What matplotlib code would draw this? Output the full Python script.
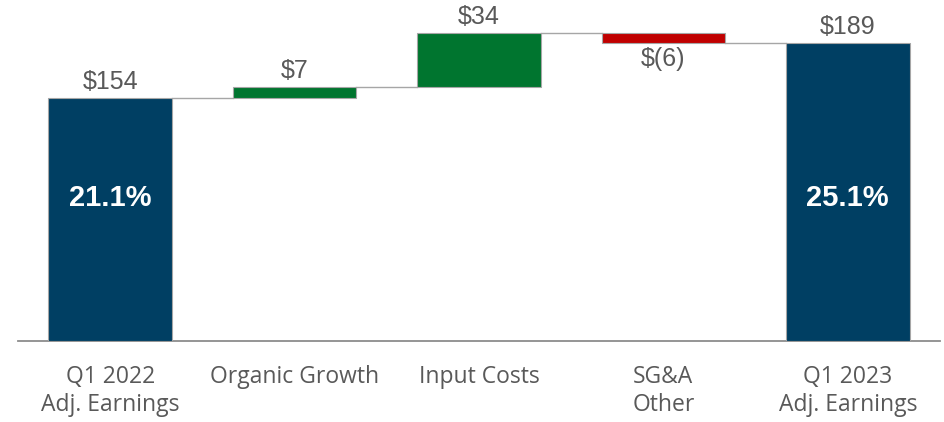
import matplotlib
matplotlib.use("Agg")
import matplotlib.pyplot as plt
import numpy as np

# earnings bridge, $ millions
categories = ["Q1 2022\nAdj. Earnings", "Organic Growth", "Input Costs",
              "SG&A\nOther", "Q1 2023\nAdj. Earnings"]
values = [154, 7, 34, -6, 189]
is_total = [True, False, False, False, True]
margins = ["21.1%", None, None, None, "25.1%"]

navy = "#003f63"
green = "#00752f"
red = "#c00000"
edge = "#a6a6a6"
text_gray = "#595959"

# bottoms/tops of each floating bar
bottoms = []
running = 0
for v, tot in zip(values, is_total):
    if tot:
        bottoms.append(0)
        running = v
    else:
        bottoms.append(running if v >= 0 else running + v)
        running += v
heights = [abs(v) for v in values]
tops = [b + h for b, h in zip(bottoms, heights)]
colors = [navy if t else (green if v >= 0 else red) for v, t in zip(values, is_total)]

fig = plt.figure(figsize=(9.44, 4.22), dpi=100)
ax = fig.add_axes([18 / 944, 81 / 422, 922 / 944, 341 / 422])

x = np.arange(len(values))
width = 0.67
ax.bar(x, heights, width, bottom=bottoms, color=colors, edgecolor=edge,
       linewidth=0.8, zorder=3)

# connectors between neighbouring bars
level = 0
for i, (v, tot) in enumerate(zip(values, is_total)):
    level = v if tot else level + v
    if i < len(values) - 1:
        ax.plot([i + width / 2, i + 1 - width / 2], [level, level],
                color=edge, linewidth=1.0, zorder=2)

def fmt(v):
    return f"${v}" if v >= 0 else f"$({-v})"

for i, v in enumerate(values):
    if v >= 0:
        ax.text(i, tops[i] + 2.5, fmt(v), ha="center", va="bottom",
                fontsize=18, color=text_gray, family="Liberation Sans")
    else:
        ax.text(i, bottoms[i] - 3, fmt(v), ha="center", va="top",
                fontsize=18, color=text_gray, family="Liberation Sans")
    if margins[i]:
        ax.text(i, 90.5, margins[i], ha="center", va="center", fontsize=21,
                color="white", fontweight="bold", family="Liberation Sans")

ax.set_xlim(-0.5, 4.5)
ax.set_ylim(0, 216)
ax.set_xticks(x)
ax.set_xticklabels(categories, fontsize=16.5, color=text_gray,
                   family="Open Sans", linespacing=1.25)
ax.tick_params(axis="x", length=0, pad=17)
ax.set_yticks([])
for s in ["top", "right", "left"]:
    ax.spines[s].set_visible(False)
ax.spines["bottom"].set_color("#8c8c8c")
ax.spines["bottom"].set_linewidth(1.3)

fig.savefig("out.png", dpi=100)
